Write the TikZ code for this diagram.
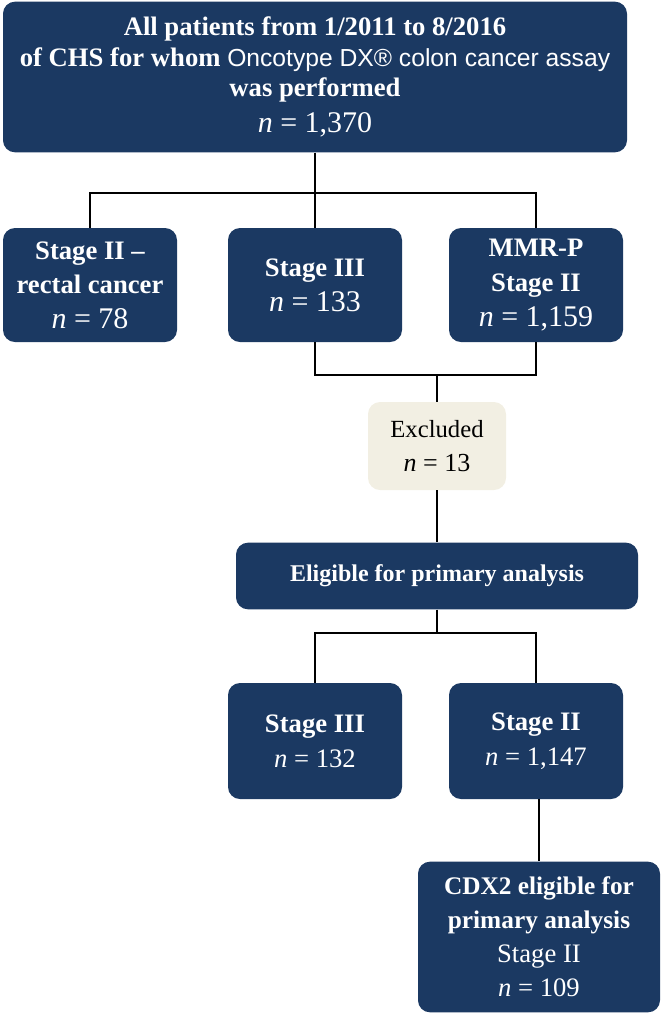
\documentclass[tikz,border=0pt]{standalone}
\usepackage{fontspec}
\setmainfont{Liberation Serif}
\newfontfamily\sansfont{Liberation Sans}
\usepackage{xcolor}
\usetikzlibrary{positioning,calc}
\definecolor{chsnavy}{RGB}{27,57,98}
\definecolor{chscream}{RGB}{242,239,227}
% n = value line, at its own size
\newcommand{\nval}[2]{{\mdseries\fontsize{#1}{#1}\selectfont\textit{n} = #2}}

\begin{document}
\begin{tikzpicture}[x=0.75pt, y=-0.75pt,
  navybox/.style={fill=chsnavy, rounded corners=9pt, text=white, align=center,
    inner sep=0pt, font=\fontsize{20}{26}\selectfont\bfseries},
  excbox/.style={fill=chscream, rounded corners=9pt, text=black, align=center,
    inner sep=0pt, font=\fontsize{18.5}{26}\selectfont},
  link/.style={line width=2.2pt, black}]
  % frame of the page
  \useasboundingbox (0,0) rectangle (661,1015);

  % Top: all patients
  \node[navybox, minimum width=468pt, minimum height=113pt,
    font=\fontsize{20}{23}\selectfont\bfseries] (top) at (315,77)
    {All patients from 1/2011 to 8/2016\\
     of CHS for whom {\sansfont\mdseries\fontsize{18.5}{23}\selectfont Oncotype DX\textregistered{} colon cancer assay}\\
     was performed\\[4pt]
     \nval{22.5}{1,370}};

  % First split: three groups
  \node[navybox, minimum width=130.5pt, minimum height=85.5pt] (rectal) at (90,285)
    {Stage II --\\rectal cancer\\\nval{22.5}{78}};
  \node[navybox, minimum width=130.5pt, minimum height=85.5pt] (stIII) at (315,285)
    {Stage III\\\nval{22.5}{133}};
  \node[navybox, minimum width=130.5pt, minimum height=85.5pt] (mmrp) at (536,285)
    {MMR-P\\Stage II\\\nval{22.5}{1,159}};

  % Excluded
  \node[excbox, minimum width=103.5pt, minimum height=66pt] (excl) at (437,446)
    {Excluded\\\nval{19.5}{13}};

  % Eligible for primary analysis
  \node[navybox, minimum width=301.5pt, minimum height=50pt,
    font=\fontsize{18}{22}\selectfont\bfseries] (elig) at (437,576)
    {Eligible for primary analysis};

  % Second split
  \node[navybox, minimum width=130.5pt, minimum height=87pt] (stIIIb) at (315,741)
    {Stage III\\\nval{20}{132}};
  \node[navybox, minimum width=130.5pt, minimum height=87pt] (stIIb) at (536,741)
    {Stage II\\\nval{20}{1,147}};

  % CDX2 eligible
  \node[navybox, minimum width=181.5pt, minimum height=113pt,
    font=\fontsize{19}{25.5}\selectfont\bfseries] (cdx) at (539,937)
    {CDX2 eligible for\\primary analysis\\{\mdseries\fontsize{20}{20}\selectfont Stage II}\\\nval{20}{109}};

  % branch points
  \coordinate (split1) at (315,193);
  \coordinate (merge1) at (437,375);
  \coordinate (split2) at (437,633);

  % connectors
  \draw[link] (top.south) -- (stIII.north);
  \draw[link] (rectal.north) |- (split1) -| (mmrp.north);
  \draw[link] (stIII.south) |- (merge1) -| (mmrp.south);
  \draw[link] (merge1) -- (excl.north);
  \draw[link] (excl.south) -- (elig.north);
  \draw[link] (elig.south) -- (split2);
  \draw[link] (stIIIb.north) |- (split2) -| (stIIb.north);
  \draw[link] (cdx.north |- stIIb.south) -- (cdx.north);
\end{tikzpicture}
\end{document}
